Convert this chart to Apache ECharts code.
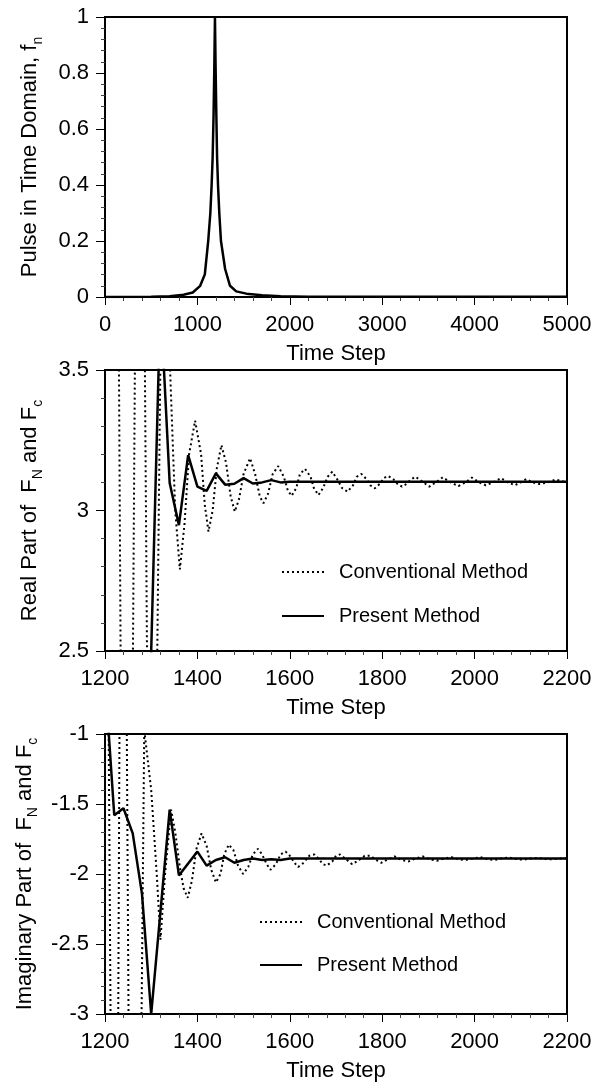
<!DOCTYPE html>
<html>
<head>
<meta charset="utf-8">
<script src="https://cdn.jsdelivr.net/npm/echarts@6/dist/echarts.min.js"></script>
<style>html,body{margin:0;padding:0;background:#fff}#c{width:608px;height:1085px}</style>
</head>
<body>
<div id="c"></div>
<script>
// ---- data ----
const pulseStep = [0, 500, 700, 850, 950, 1030, 1080, 1117, 1140, 1154, 1165, 1175, 1183, 1190, 1197, 1205, 1213, 1223, 1237, 1255, 1300, 1353, 1420, 1530, 1700, 1900, 2200, 5000];
const pulseValue = [0, 0.001, 0.003, 0.008, 0.016, 0.04, 0.08, 0.2, 0.3, 0.4, 0.5, 0.65, 0.82, 1.0, 0.82, 0.65, 0.5, 0.4, 0.3, 0.2, 0.1, 0.04, 0.02, 0.012, 0.006, 0.003, 0.001, 0.001];

const realConvStep = [1200, 1218, 1246, 1275, 1300, 1325, 1342, 1352, 1362, 1372, 1382, 1395, 1408, 1416, 1424, 1433, 1442, 1452, 1462, 1472, 1481, 1490, 1500, 1514, 1525, 1535, 1543, 1553, 1563, 1575, 1587, 1596, 1604, 1614, 1622, 1633, 1645, 1652, 1662, 1672, 1682, 1692, 1703, 1713, 1725, 1737, 1745, 1755, 1767, 1774, 1784, 1795, 1803, 1813, 1825, 1833, 1843, 1853, 1862, 1872, 1885, 1902, 1916, 1931, 1948, 1965, 1980, 1994, 2010, 2024, 2040, 2057, 2072, 2087, 2100, 2112, 2126, 2141, 2158, 2175, 2200];
const realConvValue = [5, 7, -1, 6, 0.5, 4.3, 3.45, 3.0, 2.79, 2.95, 3.2, 3.32, 3.2, 3.02, 2.925, 3.0, 3.15, 3.233, 3.17, 3.05, 2.996, 3.04, 3.13, 3.186, 3.13, 3.05, 3.026, 3.06, 3.13, 3.158, 3.12, 3.07, 3.052, 3.08, 3.13, 3.148, 3.12, 3.08, 3.055, 3.08, 3.12, 3.138, 3.11, 3.08, 3.067, 3.09, 3.12, 3.13, 3.11, 3.09, 3.079, 3.095, 3.115, 3.123, 3.11, 3.095, 3.085, 3.095, 3.11, 3.12, 3.105, 3.085, 3.1, 3.118, 3.1, 3.087, 3.1, 3.117, 3.1, 3.09, 3.1, 3.115, 3.1, 3.09, 3.1, 3.112, 3.1, 3.094, 3.1, 3.11, 3.1];

const realPresStep = [1280, 1300, 1320, 1340, 1360, 1380, 1400, 1420, 1440, 1460, 1480, 1500, 1520, 1540, 1560, 1580, 1600, 1700, 1800, 1900, 2000, 2100, 2200];
const realPresValue = [1.0, 2.5, 3.75, 3.098, 2.948, 3.197, 3.085, 3.07, 3.132, 3.092, 3.095, 3.115, 3.096, 3.1, 3.108, 3.1, 3.102, 3.102, 3.102, 3.102, 3.102, 3.102, 3.102];

const imagConvStep = [1200, 1222, 1238, 1262, 1285, 1300, 1312, 1320, 1330, 1343, 1352, 1362, 1370, 1379, 1388, 1398, 1409, 1420, 1430, 1440, 1450, 1458, 1468, 1478, 1488, 1499, 1510, 1520, 1531, 1540, 1550, 1558, 1570, 1580, 1591, 1600, 1610, 1618, 1630, 1642, 1653, 1662, 1672, 1680, 1692, 1700, 1709, 1720, 1735, 1750, 1762, 1775, 1787, 1798, 1812, 1827, 1842, 1857, 1872, 1888, 1903, 1918, 1934, 1950, 1965, 1980, 1996, 2012, 2027, 2043, 2058, 2074, 2090, 2105, 2120, 2136, 2152, 2168, 2184, 2200];
const imagConvValue = [3, -8, 4, -9, -0.97, -1.4, -2.0, -2.47, -2.0, -1.54, -1.7, -1.95, -2.1, -2.17, -2.05, -1.82, -1.71, -1.8, -1.97, -2.06, -2.0, -1.86, -1.79, -1.83, -1.94, -2.0, -1.95, -1.86, -1.82, -1.86, -1.93, -1.97, -1.93, -1.86, -1.84, -1.87, -1.92, -1.95, -1.92, -1.87, -1.86, -1.89, -1.93, -1.94, -1.91, -1.87, -1.86, -1.89, -1.93, -1.9, -1.87, -1.87, -1.9, -1.92, -1.895, -1.875, -1.9, -1.91, -1.89, -1.875, -1.895, -1.905, -1.89, -1.88, -1.895, -1.9, -1.89, -1.88, -1.893, -1.9, -1.89, -1.883, -1.893, -1.898, -1.89, -1.885, -1.892, -1.895, -1.89, -1.888];

const imagPresStep = [1200, 1220, 1240, 1260, 1280, 1300, 1340, 1360, 1400, 1420, 1440, 1460, 1480, 1500, 1520, 1540, 1560, 1580, 1600, 1700, 1800, 1900, 2000, 2100, 2200];
const imagPresValue = [-0.6, -1.58, -1.53, -1.71, -2.14, -3.0, -1.54, -2.01, -1.84, -1.94, -1.9, -1.88, -1.92, -1.9, -1.89, -1.9, -1.895, -1.9, -1.89, -1.89, -1.89, -1.89, -1.89, -1.89, -1.89];

const legendNames = ['Conventional Method', 'Present Method'];
// ---------------------------------------

const zip = (a, b) => a.map((x, i) => [x, b[i]]);
const FONT = "'Liberation Sans', Arial, Helvetica, sans-serif";
const sub = { fontSize: 14, fontFamily: FONT, color: '#000', verticalAlign: 'bottom', lineHeight: 14 };
const main = { fontSize: 22, fontFamily: FONT, color: '#000', lineHeight: 30 };
const plain = v => String(+(+v).toFixed(3));

function xAxis(gi, min, max, interval) {
  return {
    type: 'value', gridIndex: gi, min, max, interval,
    name: 'Time Step', nameLocation: 'middle', nameGap: 46,
    nameTextStyle: { fontSize: 22, fontFamily: FONT, color: '#000' },
    axisLine: { lineStyle: { color: '#000', width: 2 } },
    axisTick: { show: true, inside: false, length: 8, lineStyle: { color: '#000', width: 1 } },
    minorTick: { show: true, splitNumber: 5, length: 4, lineStyle: { color: '#444', width: 1 } },
    axisLabel: { fontSize: 22, fontFamily: FONT, color: '#000', margin: 17, showMinLabel: true, showMaxLabel: true, formatter: plain },
    splitLine: { show: false }
  };
}
function yAxis(gi, min, max, interval, nameStr) {
  return {
    type: 'value', gridIndex: gi, min, max, interval,
    name: nameStr, nameLocation: 'middle', nameGap: 60,
    nameTextStyle: { rich: { a: main, s: sub } },
    axisLine: { lineStyle: { color: '#000', width: 2 } },
    axisTick: { show: true, inside: false, length: 9, lineStyle: { color: '#000', width: 1 } },
    minorTick: { show: true, splitNumber: 5, length: 4, lineStyle: { color: '#444', width: 1 } },
    axisLabel: { fontSize: 22, fontFamily: FONT, color: '#000', margin: 16, showMinLabel: true, showMaxLabel: true, formatter: plain },
    splitLine: { show: false }
  };
}
const gridBase = { left: 105, width: 462, height: 280, show: true, borderColor: '#000', borderWidth: 2, backgroundColor: 'transparent' };
const dotted = { color: '#000', width: 2, type: [2, 3], cap: 'butt' };
const solid = { color: '#000', width: 2.5 };
const legendBase = { data: legendNames, orient: 'vertical', itemWidth: 42, itemHeight: 14, selectedMode: false,
  itemStyle: { opacity: 0, borderWidth: 0 },
  textStyle: { fontSize: 20, fontFamily: FONT, color: '#000', padding: [0, 0, 0, 10] } };

const chart = echarts.init(document.getElementById('c'), null, { renderer: 'canvas' });
chart.setOption({
  backgroundColor: '#fff',
  animation: false,
  grid: [
    Object.assign({}, gridBase, { top: 17 }),
    Object.assign({}, gridBase, { top: 370, height: 281 }),
    Object.assign({}, gridBase, { top: 734 })
  ],
  xAxis: [xAxis(0, 0, 5000, 1000), xAxis(1, 1200, 2200, 200), xAxis(2, 1200, 2200, 200)],
  yAxis: [
    yAxis(0, 0, 1, 0.2, '{a|Pulse in Time Domain, f}{s|n}'),
    yAxis(1, 2.5, 3.5, 0.5, '{a|Real Part of  F}{s|N}{a| and F}{s|c}'),
    yAxis(2, -3, -1, 0.5, '{a|Imaginary Part of  F}{s|N}{a| and F}{s|c}')
  ],
  legend: [
    Object.assign({}, legendBase, { left: 276, top: 557, itemGap: 24 }),
    Object.assign({}, legendBase, { left: 254, top: 907, itemGap: 23 })
  ],
  series: [
    { name: 'Pulse', type: 'line', xAxisIndex: 0, yAxisIndex: 0, data: zip(pulseStep, pulseValue), showSymbol: false, symbol: 'none', lineStyle: solid, itemStyle: { color: '#000' } },
    { name: legendNames[0], type: 'line', xAxisIndex: 1, yAxisIndex: 1, data: zip(realConvStep, realConvValue), symbol: 'none', lineStyle: dotted, itemStyle: { color: '#000' } },
    { name: legendNames[1], type: 'line', xAxisIndex: 1, yAxisIndex: 1, data: zip(realPresStep, realPresValue), symbol: 'none', lineStyle: solid, itemStyle: { color: '#000' } },
    { name: legendNames[0], type: 'line', xAxisIndex: 2, yAxisIndex: 2, data: zip(imagConvStep, imagConvValue), symbol: 'none', lineStyle: dotted, itemStyle: { color: '#000' } },
    { name: legendNames[1], type: 'line', xAxisIndex: 2, yAxisIndex: 2, data: zip(imagPresStep, imagPresValue), symbol: 'none', lineStyle: solid, itemStyle: { color: '#000' } }
  ]
});
</script>
</body>
</html>
